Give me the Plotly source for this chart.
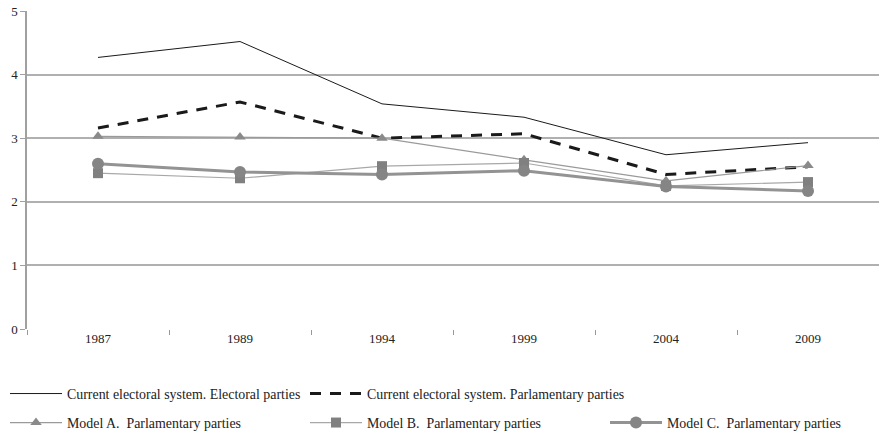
import plotly.graph_objects as go

years = ["1987", "1989", "1994", "1999", "2004", "2009"]
current_electoral = [4.27, 4.52, 3.54, 3.33, 2.74, 2.93]
current_parl = [3.16, 3.57, 3.00, 3.07, 2.43, 2.55]
model_a = [3.03, 3.02, 3.00, 2.66, 2.33, 2.57]
model_b = [2.45, 2.37, 2.56, 2.61, 2.25, 2.31]
model_c = [2.60, 2.47, 2.43, 2.49, 2.24, 2.17]

font_family = "Liberation Serif"

fig = go.Figure()
fig.add_trace(go.Scatter(x=years, y=current_electoral, mode="lines",
                         name="Current electoral system. Electoral parties",
                         line=dict(color="#1a1a1a", width=1), legend="legend",
                         showlegend=True))
fig.add_trace(go.Scatter(x=years, y=current_parl, mode="lines",
                         name="Current electoral system. Parlamentary parties",
                         line=dict(color="#1a1a1a", width=3, dash="11px,9px"), legend="legend2"))
fig.add_trace(go.Scatter(x=years, y=model_a, mode="lines+markers",
                         name="Model A.  Parlamentary parties",
                         line=dict(color="#9a9a9a", width=1.2),
                         marker=dict(symbol="triangle-up", size=10, color="#8a8a8a"),
                         legend="legend3"))
fig.add_trace(go.Scatter(x=years, y=model_b, mode="lines+markers",
                         name="Model B.  Parlamentary parties",
                         line=dict(color="#a8a8a8", width=1.2),
                         marker=dict(symbol="square", size=10, color="#808080"),
                         legend="legend4"))
fig.add_trace(go.Scatter(x=years, y=model_c, mode="lines+markers",
                         name="Model C.  Parlamentary parties",
                         line=dict(color="#939393", width=3),
                         marker=dict(symbol="circle", size=12, color="#858585"),
                         legend="legend5"))

leg_font = dict(family=font_family, size=13.9, color="#222")


def leg(xpix, ypix):
    return dict(orientation="h", xref="container", yref="container",
                x=xpix / 879, y=1 - ypix / 432, xanchor="left", yanchor="middle",
                itemwidth=52, font=leg_font, bgcolor="rgba(0,0,0,0)", borderwidth=0,
                visible=True)


fig.update_layout(
    width=879, height=432,
    showlegend=True,
    margin=dict(l=27, r=0, t=11, b=103),
    paper_bgcolor="white", plot_bgcolor="white",
    font=dict(family=font_family, size=13, color="#222222"),
    legend=leg(5, 394),
    legend2=leg(305, 394),
    legend3=leg(5, 423),
    legend4=leg(305, 423),
    legend5=leg(605, 423),
    xaxis=dict(type="category", range=[-0.5, 5.5], showgrid=False, automargin=False,
               ticks="outside", tickson="boundaries", ticklen=5, tickcolor="#999",
               showline=False, tickfont=dict(family=font_family, size=13, color="#222"),
               zeroline=False),
    yaxis=dict(range=[0, 5], dtick=1, showgrid=True, gridcolor="#b0b0b0", gridwidth=1.5,
               automargin=False,
               showline=True, linecolor="#a0a0a0", linewidth=1.5,
               ticks="outside", ticklen=5, tickcolor="#a0a0a0", zeroline=False,
               tickfont=dict(family=font_family, size=13, color="#222")),
)

fig.write_html("out.html", config={"displayModeBar": False},
               post_script="document.body.style.margin='0';")
